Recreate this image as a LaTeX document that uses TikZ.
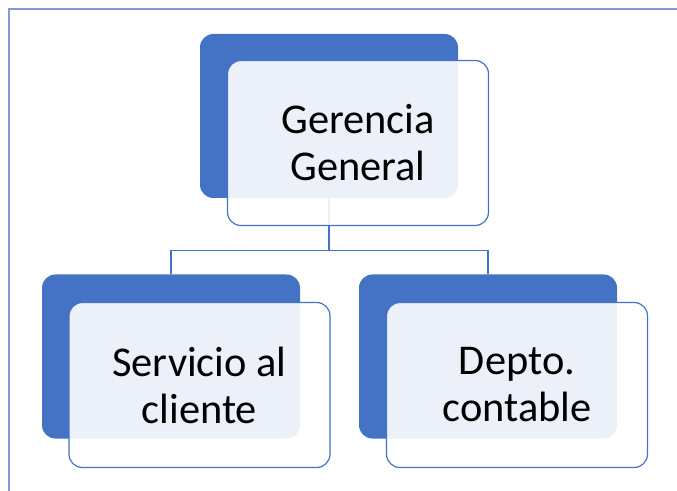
\documentclass[tikz,border=0pt]{standalone}
\usepackage{fontspec}
\setmainfont{Carlito}
\usetikzlibrary{positioning,calc}
\definecolor{acc}{HTML}{4472C4}
\definecolor{frm}{HTML}{7D9BD6}
\tikzset{
  back/.style={fill=acc,rounded corners=10pt,minimum width=193.5pt,minimum height=123pt,inner sep=0pt},
  front/.style={draw=acc,line width=0.9pt,fill=white,fill opacity=0.9,text opacity=1,rounded corners=10pt,
    minimum width=195.75pt,minimum height=123.75pt,inner sep=0pt,align=center,
    font=\fontsize{31.8pt}{35.25pt}\selectfont},
  ln/.style={draw=acc,line width=0.9pt},
}
\begin{document}
\begin{tikzpicture}[x=0.75pt,y=-0.75pt]
\useasboundingbox (0,0) rectangle (677,491);
% ---- frame ----
\draw[frm,line width=1pt] (677,9) -- (9,9) -- (9,491);
% ---- back boxes ----
\node[back] (ggback) at (329,116) {};
\node[back] (scback) at (171,356.5) {};
\node[back] (dcback) at (488,356.5) {};
% ---- connectors ----
\draw[ln] (ggback.south) -- ++(0,52) coordinate (bus) -| (scback.north);
\draw[ln] (bus) -| (dcback.north);
% ---- text boxes ----
\node[front] (gg) at (358,143) {Gerencia\\General};
\node[front] (sc) at (199.5,385) {Servicio al\\cliente};
\node[front] (dc) at (517,385) {Depto.\\contable};
\end{tikzpicture}
\end{document}
